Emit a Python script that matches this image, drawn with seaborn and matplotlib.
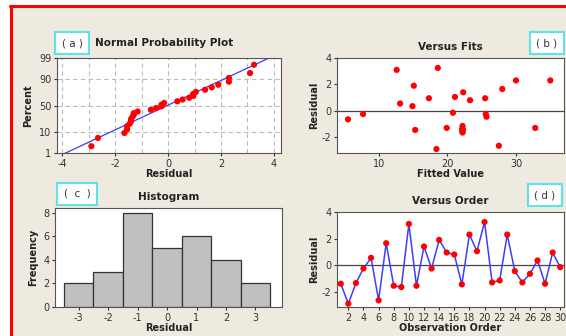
from statistics import NormalDist

import matplotlib
import matplotlib.pyplot as plt
import numpy as np
import pandas as pd
import seaborn as sns
from matplotlib.lines import Line2D
from matplotlib.patches import Rectangle

matplotlib.use("Agg")

# residuals in observation order
residuals = [-1.4, -2.9, -1.35, -0.25, 0.55, -2.65, 1.65, -1.55, -1.65, 3.1,
             -1.55, 1.4, -0.25, 1.9, 0.95, 0.8, -1.45, 2.3, 1.05, 3.25,
             -1.3, -1.15, 2.3, -0.45, -1.3, -0.65, 0.35, -1.4, 0.95, -0.15]
fitted = [22.2, 18.4, 22.2, 25.6, 13.1, 27.5, 28.0, 22.2, 22.2, 12.6,
          22.2, 22.3, 7.7, 15.1, 17.3, 23.3, 15.3, 30.0, 21.1, 18.6,
          19.9, 22.2, 35.0, 25.7, 32.8, 5.5, 14.9, 22.2, 25.5, 20.8]
order = list(range(1, 31))
pct_ticks = [1, 10, 50, 90, 99]
hist_edges = [-3.5, -2.5, -1.5, -0.5, 0.5, 1.5, 2.5, 3.5]

W, H = 566, 336
BG = "#EEEAE0"
RED = "#FF0000"
BLUE = "#3C3CFF"
CYAN = "#5EE3EA"

df = pd.DataFrame({"residual": residuals, "fitted": fitted, "order": order})
nd = NormalDist()
n = len(df)
prob = df.sort_values("residual").reset_index(drop=True)
prob["z"] = [nd.inv_cdf((i + 1 - 0.3) / (n + 0.4)) for i in range(n)]

sns.set_theme(style="white")
plt.rcParams["font.family"] = ["DejaVu Sans"]
plt.rcParams["axes.linewidth"] = 0.8
plt.rcParams["axes.unicode_minus"] = False

fig = plt.figure(figsize=(W / 100, H / 100), dpi=100, facecolor="white")
fig.add_artist(Rectangle((11 / W, 0), 1, 1 - 6 / H, transform=fig.transFigure,
                         facecolor=BG, edgecolor="none", zorder=-10))
fig.add_artist(Line2D([10 / W, 1], [1 - 6 / H, 1 - 6 / H], color=RED, lw=2.2))
fig.add_artist(Line2D([11 / W, 11 / W], [0, 1 - 6 / H], color=RED, lw=2.2))


def px_axes(l, t, r, b):
    ax = fig.add_axes([l / W, 1 - b / H, (r - l) / W, (b - t) / H])
    ax.set_facecolor("white")
    for s in ax.spines.values():
        s.set_color("#555555")
    ax.tick_params(axis="both", labelsize=7, colors="#333333", length=2.5,
                   width=0.8, pad=1.5, direction="out", bottom=True, left=True)
    return ax


def tag(x, y, s):
    fig.text(x / W, 1 - y / H, s, fontsize=7.5, ha="center", va="center",
             color="#333333",
             bbox=dict(boxstyle="square,pad=0.6", fc="white", ec=CYAN, lw=1.5))


def title(ax, s):
    ax.set_title(s, fontsize=7.5, fontweight="bold", color="#222222", pad=6)


lab = dict(fontsize=7, fontweight="bold", color="#222222")
grid = dict(ls=(0, (4, 3)), color="#BBBBBB", lw=0.8, zorder=0)

# (a) normal probability plot
ax = px_axes(57, 58, 281, 153)
mu, sd = np.mean(residuals), np.std(residuals, ddof=1)
xl = np.array([-4.2, 4.27])
zt = [nd.inv_cdf(p / 100) for p in pct_ticks]
for v in range(-4, 5):
    ax.axvline(v, **grid)
for v in zt:
    ax.axhline(v, **grid)
sns.lineplot(x=xl, y=(xl - mu) / sd, color=BLUE, lw=0.9, ax=ax)
sns.scatterplot(data=prob, x="residual", y="z", color=RED, s=20,
                edgecolor="none", ax=ax, zorder=3)
ax.set_yticks(zt, [str(p) for p in pct_ticks])
ax.set_xticks([-4, -2, 0, 2, 4])
ax.set_xlim(-4.2, 4.27)
ax.set_ylim(zt[0], zt[-1])
ax.set_xlabel("Residual", labelpad=0, **lab)
ax.set_ylabel("Percent", labelpad=4, **lab)
fig.text(95 / W, 1 - 43 / H, "Normal Probability Plot", fontsize=7.5,
         fontweight="bold", color="#222222", va="center")
tag(72, 43, "( a )")

# (b) versus fits
ax = px_axes(337, 58, 564, 153)
ax.axhline(0, color="#444444", lw=0.9)
sns.scatterplot(data=df, x="fitted", y="residual", color=RED, s=20,
                edgecolor="none", ax=ax, zorder=3)
ax.set_xlim(3.9, 37)
ax.set_ylim(-3.2, 4)
ax.set_xticks([10, 20, 30])
ax.set_yticks([-2, 0, 2, 4])
ax.set_xlabel("Fitted Value", labelpad=0, **lab)
ax.set_ylabel("Residual", labelpad=2, **lab)
title(ax, "Versus Fits")
tag(547, 43, "( b )")

# (c) histogram
ax = px_axes(55, 208, 282, 307)
sns.histplot(data=df, x="residual", bins=hist_edges, color="#C0C0C0",
             edgecolor="#333333", linewidth=0.9, alpha=1, ax=ax)
ax.set_xlim(-3.8, 3.9)
ax.set_ylim(0, 8.4)
ax.set_xticks([-3, -2, -1, 0, 1, 2, 3])
ax.set_yticks([0, 2, 4, 6, 8])
ax.set_xlabel("Residual", labelpad=0, **lab)
ax.set_ylabel("Frequency", labelpad=4, **lab)
title(ax, "Histogram")
tag(77, 194, "(  c  )")

# (d) versus order
ax = px_axes(337, 212, 564, 307)
ax.axhline(0, color="#444444", lw=0.9)
sns.lineplot(data=df, x="order", y="residual", color=BLUE, lw=1.1, ax=ax)
sns.scatterplot(data=df, x="order", y="residual", color=RED, s=20,
                edgecolor="none", ax=ax, zorder=3)
ax.set_xlim(0.5, 30.5)
ax.set_ylim(-3.15, 4)
ax.set_xticks(range(2, 31, 2))
ax.set_yticks([-2, 0, 2, 4])
ax.set_xlabel("Observation Order", labelpad=0, **lab)
ax.set_ylabel("Residual", labelpad=2, **lab)
title(ax, "Versus Order")
tag(545, 195, "( d )")

fig.savefig("out.png", dpi=100, facecolor=fig.get_facecolor())
